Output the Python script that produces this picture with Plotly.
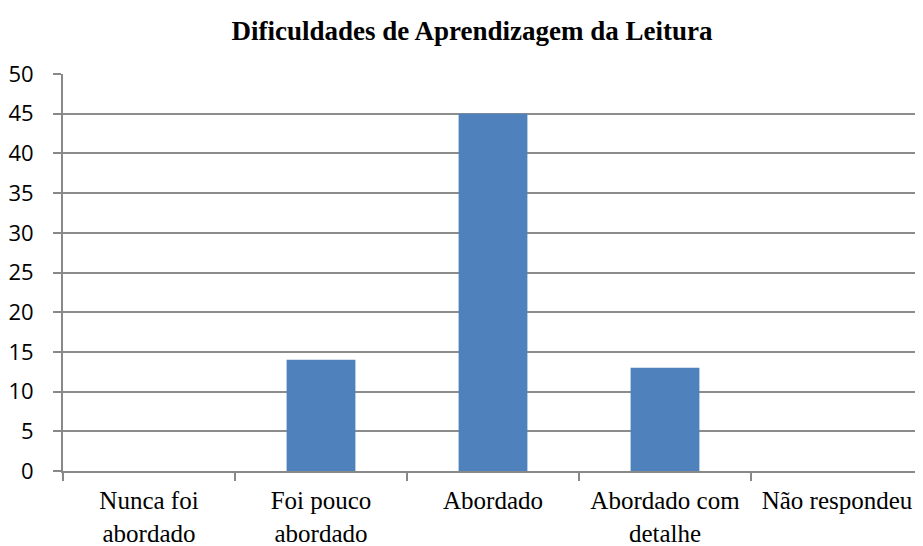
import plotly.graph_objects as go

categories = ["Nunca foi<br>abordado", "Foi pouco<br>abordado", "Abordado", "Abordado com<br>detalhe", "Não respondeu"]
values = [0, 14, 45, 13, 0]
y_ticks = [0, 5, 10, 15, 20, 25, 30, 35, 40, 45, 50]

SERIF = "'Liberation Serif', 'Times New Roman', Times, serif"

fig = go.Figure(go.Bar(
    x=categories, y=values,
    marker=dict(color="#4F81BD", line=dict(width=0)),
    width=0.4,
))

# page body has an 8px default margin; margins below compensate for it
fig.update_layout(
    width=923, height=546,
    margin=dict(l=55, r=8, t=66, b=83, autoexpand=False),
    paper_bgcolor="white", plot_bgcolor="white",
    showlegend=False,
    title=dict(text="<b>Dificuldades de Aprendizagem da Leitura</b>",
               x=464/923, xref="container", xanchor="center",
               y=1 - 23/546, yref="container", yanchor="middle",
               font=dict(family=SERIF, size=27, color="black")),
)
fig.update_xaxes(
    showline=True, linecolor="#888888", linewidth=2,
    ticks="outside", ticklen=8, tickcolor="#888888", tickwidth=1.5,
    tickson="boundaries",
    tickfont=dict(family=SERIF, size=25, color="black"),
    ticklabelstandoff=6,
    showgrid=False,
)
fig.update_yaxes(
    range=[0, 50], tickvals=y_ticks,
    showline=True, linecolor="#888888", linewidth=2,
    ticks="outside", ticklen=8, tickcolor="#888888", tickwidth=1.5,
    showgrid=True, gridcolor="#8c8c8c", gridwidth=1.5,
    zeroline=False,
    tickfont=dict(family="Open Sans", size=22, color="black"),
    ticklabelstandoff=15,
)

fig.write_html("out.html")
